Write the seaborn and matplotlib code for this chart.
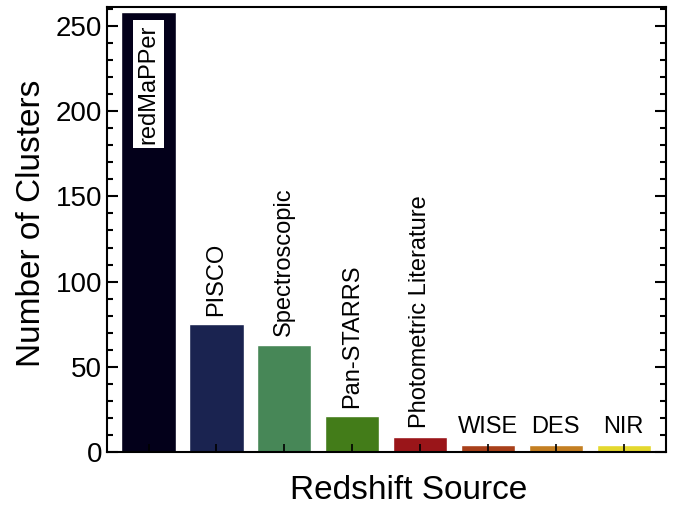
import matplotlib
matplotlib.use("Agg")
import matplotlib.pyplot as plt
import seaborn as sns
import pandas as pd
from matplotlib.ticker import MultipleLocator

# Datos
sources = ["redMaPPer", "PISCO", "Spectroscopic", "Pan-STARRS",
           "Photometric Literature", "WISE", "DES", "NIR"]
counts = [258, 75, 63, 21, 9, 4, 4, 4]
colors = ["#03001a", "#1a2350", "#478757", "#437c19",
          "#9a1519", "#a8401a", "#c47f22", "#e4d82e"]
vertical_labels = [True, True, True, True, True, False, False, False]

sns.set_theme(style="ticks")
plt.rcParams["font.family"] = ["Liberation Sans", "DejaVu Sans"]

df = pd.DataFrame({"source": sources, "count": counts})

fig, ax = plt.subplots(figsize=(6.78, 5.08), dpi=100)
fig.subplots_adjust(left=0.158, right=0.982, top=0.986, bottom=0.110)

sns.barplot(data=df, x="source", y="count", hue="source", palette=colors,
            width=0.8, saturation=1, legend=False, ax=ax)

# Etiquetas de cada barra
for i, (name, val, vert) in enumerate(zip(sources, counts, vertical_labels)):
    if i == 0:
        ax.text(i, val - 7, name, rotation=90, ha="center", va="top",
                fontsize=17, color="black",
                bbox=dict(facecolor="white", edgecolor="none", pad=3))
    elif vert:
        ax.text(i, val + 5, name, rotation=90, ha="center", va="bottom",
                fontsize=17, color="black")
    else:
        ax.text(i, val + 4, name, ha="center", va="bottom",
                fontsize=17, color="black")

ax.set_axisbelow(False)  # ticks encima de las barras
ax.set_xlim(-0.61, 7.62)
ax.set_ylim(0, 261)
ax.set_xticks(range(len(sources)))
ax.set_xticklabels([])
ax.yaxis.set_major_locator(MultipleLocator(50))
ax.yaxis.set_minor_locator(MultipleLocator(10))
ax.tick_params(axis="y", which="both", direction="in", left=True, right=True,
               width=1.5, labelsize=20, colors="black")
ax.tick_params(axis="y", which="major", length=8)
ax.tick_params(axis="y", which="minor", length=4)
ax.tick_params(axis="x", which="major", direction="in", bottom=True, top=False,
               length=6, width=1.2, colors="black")

for spine in ax.spines.values():
    spine.set_visible(True)
    spine.set_linewidth(1.5)
    spine.set_color("black")

ax.set_xlabel("Redshift Source", fontsize=24, labelpad=13, color="black")
ax.xaxis.label.set_x(0.54)
ax.set_ylabel("Number of Clusters", fontsize=24, labelpad=6, color="black")
ax.yaxis.label.set_y(0.515)

fig.savefig("out.png", dpi=100)
